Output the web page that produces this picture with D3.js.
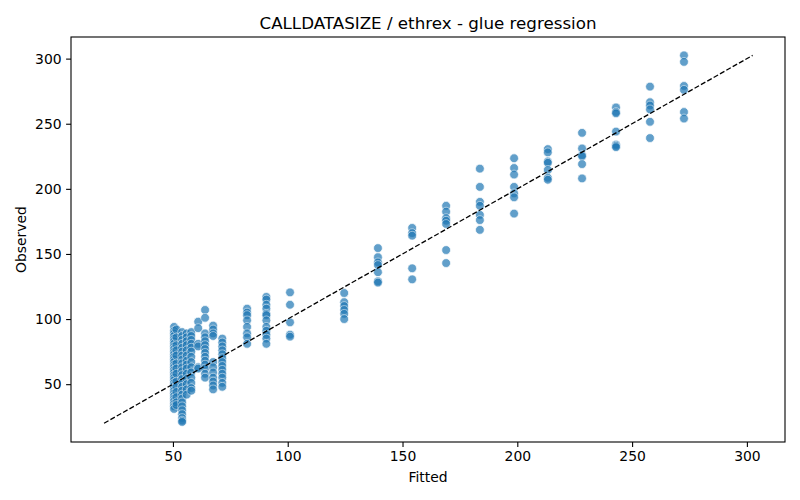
<!DOCTYPE html>
<html>
<head>
<meta charset="utf-8">
<script src="https://cdn.jsdelivr.net/npm/d3@7"></script>
<style>
  body { margin: 0; background: #fff; }
  svg { font-family: "DejaVu Sans", sans-serif; }
</style>
</head>
<body>
<svg id="chart" width="800" height="500"></svg>
<script>
// fitted levels (x) and the observed values seen at each level (y)
const fittedLevels = [50.5, 51.5, 54, 56, 58, 61, 64, 67.5, 71.5, 82.3, 90.7, 101,
  124.6, 139.3, 154.2, 169, 183.7, 198.6, 213.3, 228.2, 243, 257.8, 272.6];

const observedByLevel = [
  [94, 91, 89, 87, 85, 83, 81, 79, 77, 75, 73, 71, 69, 67, 65, 63, 61, 59, 57, 55, 53, 51, 49, 47, 45, 43, 41, 39, 37, 35, 33, 31],
  [92, 86, 80, 76, 72, 66, 62, 58, 52, 48, 44, 40, 36, 34],
  [90, 87, 84, 81, 78, 75, 72, 69, 66, 63, 60, 57, 54, 51, 48, 45, 42, 39, 36, 33, 30, 27, 24, 22, 21],
  [89, 86, 83, 80, 76, 72, 68, 65, 62, 58, 54, 50, 46, 42],
  [90, 87, 84, 81, 78, 75, 71, 67, 63, 59, 55, 51, 47, 45],
  [98, 93, 81, 79, 63, 62],
  [107, 101, 89, 86, 83, 80, 77, 74, 71, 68, 65, 62, 58, 55],
  [95, 92, 89, 87, 67, 63, 59, 55, 52, 49, 46],
  [85, 82, 79, 76, 73, 70, 67, 64, 61, 58, 55, 51, 48],
  [108, 105, 103, 99, 94, 89, 86, 81],
  [117, 115, 111, 108, 104, 103, 99, 94, 91, 88, 85, 81],
  [120.5, 111, 97.5, 88, 86.5],
  [120, 113, 110, 107, 104, 100],
  [154.5, 147.5, 143.5, 141.5, 136, 129, 128],
  [170, 166, 164, 139, 130.5],
  [187, 182.5, 177.5, 175.5, 173, 153, 143],
  [215.5, 201.5, 190, 187, 180, 176, 168.5],
  [223.5, 216, 211, 201.5, 196.5, 193.5, 181],
  [230.5, 228, 221, 220, 214.5, 208.5, 207],
  [243, 231, 226, 225, 219, 208],
  [262.5, 259, 258, 244, 234, 233, 232],
  [278.5, 266.5, 264, 261, 251.5, 239],
  [302.5, 297.5, 279, 276, 259, 254]
];

const tickValues = [50, 100, 150, 200, 250, 300];
const diagonal = [20, 302.5];

const points = [];
fittedLevels.forEach((f, i) => {
  observedByLevel[i].forEach(o => points.push({ fitted: f, observed: o }));
});

const margin = { top: 37, right: 15, bottom: 58, left: 71 };
const width = 800, height = 500;
const svg = d3.select("#chart");

const x = d3.scaleLinear().domain([5.6, 316.6]).range([margin.left, width - margin.right]);
const y = d3.scaleLinear().domain([5.6, 316.6]).range([height - margin.bottom, margin.top]);

// points
svg.append("g")
  .selectAll("circle")
  .data(points)
  .join("circle")
  .attr("cx", d => x(d.fitted))
  .attr("cy", d => y(d.observed))
  .attr("r", 4.4)
  .attr("fill", "#1f77b4")
  .attr("stroke", "#fff")
  .attr("stroke-width", 0.7)
  .attr("opacity", 0.7);

// y = x reference line
svg.append("line")
  .attr("x1", x(diagonal[0])).attr("y1", y(diagonal[0]))
  .attr("x2", x(diagonal[1])).attr("y2", y(diagonal[1]))
  .attr("stroke", "#000")
  .attr("stroke-width", 1.3)
  .attr("stroke-dasharray", "5.1,2.2");

// axes
const xAxis = svg.append("g")
  .attr("transform", `translate(0,${height - margin.bottom})`)
  .call(d3.axisBottom(x).tickValues(tickValues).tickSize(4.9).tickPadding(4.5));
const yAxis = svg.append("g")
  .attr("transform", `translate(${margin.left},0)`)
  .call(d3.axisLeft(y).tickValues(tickValues).tickSize(4.9).tickPadding(4.5));

[xAxis, yAxis].forEach(g => {
  g.select(".domain").remove();
  g.selectAll("line").attr("stroke", "#000").attr("stroke-width", 1.1);
  g.selectAll("text").attr("font-size", 13.9).attr("fill", "#000")
    .attr("font-family", "DejaVu Sans");
});

// frame
svg.append("rect")
  .attr("x", margin.left).attr("y", margin.top)
  .attr("width", width - margin.left - margin.right)
  .attr("height", height - margin.top - margin.bottom)
  .attr("fill", "none")
  .attr("stroke", "#000")
  .attr("stroke-width", 1.1);

// labels
svg.append("text")
  .attr("x", (margin.left + width - margin.right) / 2)
  .attr("y", 29)
  .attr("text-anchor", "middle")
  .attr("font-size", 16.7)
  .text("CALLDATASIZE / ethrex - glue regression");

svg.append("text")
  .attr("x", (margin.left + width - margin.right) / 2)
  .attr("y", 482)
  .attr("text-anchor", "middle")
  .attr("font-size", 13.9)
  .text("Fitted");

svg.append("text")
  .attr("transform", `translate(26,${(margin.top + height - margin.bottom) / 2}) rotate(-90)`)
  .attr("text-anchor", "middle")
  .attr("font-size", 13.9)
  .text("Observed");
</script>
</body>
</html>
